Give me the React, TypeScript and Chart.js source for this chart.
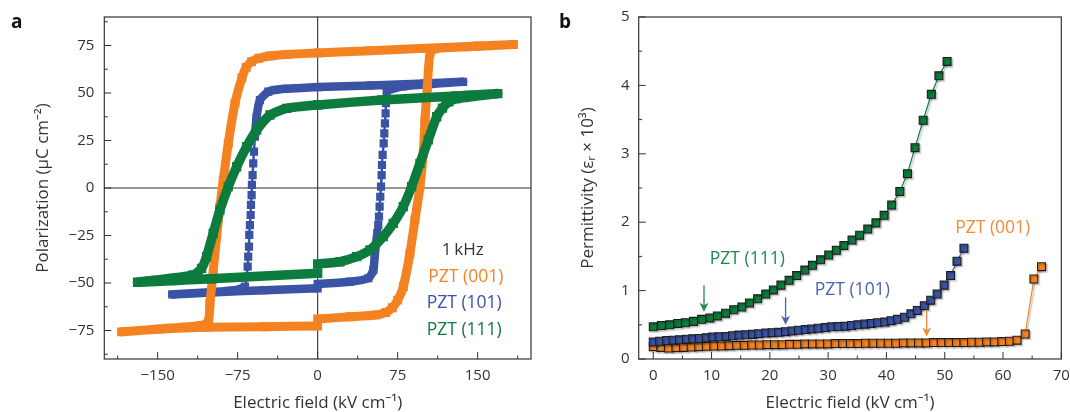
import React, { useEffect, useRef } from "react";
import { Chart, registerables } from "chart.js";

Chart.register(...registerables);

const FONT = "'Open Sans', 'Noto Sans', 'DejaVu Sans', sans-serif";
Chart.defaults.font.family = FONT;

// ---------- Panel a: P–E hysteresis loops (1 kHz) ----------
const fieldA001 = [0, 30, 55, 64, 70, 75, 80.3, 86.5, 91.2, 95.9, 99, 100.6, 102.8, 105.3, 110, 140, 183.5, 150, 100, 50, 0, -30, -45, -55, -62, -67, -71, -77.5, -83.8, -88.5, -91.6, -94.7, -97.8, -101, -102.5, -110, -140, -183.7, -150, -105, -50, 0];
const polA001 = [-68.9, -67.8, -66.8, -65.5, -63, -59, -52, -34.4, -16.8, 0.7, 18.2, 35.8, 53.3, 70.9, 73.3, 74.3, 75.5, 74.7, 73.5, 72.3, 71.1, 70.3, 69.5, 68.3, 66.5, 63.5, 58, 44.6, 23.5, 4.2, -9.8, -25.6, -43.2, -60.7, -70.5, -72.4, -73.8, -75.7, -74.3, -73.3, -73, -72.6];

const fieldA101 = [0, 30.3, 47.5, 52.2, 53.7, 55.9, 56.8, 57.5, 58.1, 58.7, 59.4, 60.0, 60.3, 60.9, 61.9, 62.5, 63.1, 63.7, 64.0, 64.7, 80, 136.3, 100, 50, 0, -30, -40, -46.3, -54.1, -57.2, -58.8, -59.7, -60.4, -61, -61.6, -61.9, -62.5, -62.8, -63.5, -64.1, -64.4, -65.1, -65.6, -66.6, -68.2, -80, -136.3, -100, -50, 0];
const polA101 = [-50.5, -49.3, -47.5, -43.2, -34.4, -23.8, -19.5, -15.1, -9.8, -4.6, 0.7, 6.8, 12.1, 17.4, 23.5, 28.8, 34.0, 39.3, 44.6, 50.7, 53.5, 55.9, 55.0, 54.0, 53.1, 52.2, 51.6, 50.7, 46.3, 37.5, 27, 19.1, 13, 6.8, 1.6, -3.7, -8.9, -14.2, -19.5, -24.7, -30.9, -36.1, -41.4, -46.7, -51.9, -54, -56.0, -55.0, -53.8, -52.8];

const fieldA111 = [0, 20.9, 36.6, 49, 61.5, 70.9, 80.3, 88.1, 95.9, 103.7, 111.6, 117, 123, 130, 168.8, 130, 60, 0, -29.1, -44.7, -57.2, -66.6, -75.9, -83.8, -91.6, -97.9, -104.1, -108.8, -116.6, -168.8, -100, 0];
const polA111 = [-40, -38.8, -36.1, -32.6, -25.6, -18.6, -9.8, 0.7, 13, 25.3, 37.5, 42, 45.3, 47, 49.7, 48.4, 46.3, 43.7, 41.9, 38.4, 30.5, 21.7, 11.2, 0.7, -11.6, -23.8, -36.1, -42.3, -45.8, -49.6, -47.8, -44.9];

const fieldTicksA = [-150, -75, 0, 75, 150];
const fieldMinorA = [-187.5, -112.5, -37.5, 37.5, 112.5, 187.5];
const polTicksA = [-75, -50, -25, 0, 25, 50, 75];
const polMinorA = [-87.5, -62.5, -37.5, -12.5, 12.5, 37.5, 62.5, 87.5];

// ---------- Panel b: permittivity vs field ----------
const fieldB111 = [0, 1.4, 2.8, 4.2, 5.5, 6.9, 8.3, 9.7, 11.0, 12.4, 13.8, 15.2, 16.5, 17.9, 19.3, 20.6, 21.9, 23.3, 24.6, 26.0, 27.3, 28.7, 30.1, 31.4, 32.7, 34.1, 35.4, 36.8, 38.2, 39.6, 40.9, 42.3, 43.6, 44.9, 46.3, 47.7, 49.0, 50.4];
const permB111 = [0.47, 0.49, 0.50, 0.52, 0.53, 0.55, 0.58, 0.60, 0.63, 0.67, 0.72, 0.76, 0.82, 0.88, 0.95, 1.01, 1.08, 1.15, 1.22, 1.30, 1.37, 1.45, 1.52, 1.59, 1.66, 1.74, 1.81, 1.90, 1.99, 2.10, 2.25, 2.45, 2.71, 3.09, 3.49, 3.87, 4.14, 4.35];

const fieldB101 = [0, 1.1, 2.3, 3.4, 4.5, 5.7, 6.8, 7.9, 9.1, 10.2, 11.3, 12.5, 13.6, 14.7, 15.9, 17.0, 18.1, 19.3, 20.4, 21.5, 22.7, 23.8, 24.9, 26.1, 27.2, 28.3, 29.5, 30.6, 31.7, 32.9, 34.0, 35.1, 36.3, 37.4, 38.5, 39.7, 40.8, 41.9, 43.1, 44.2, 45.3, 46.5, 47.6, 48.7, 49.9, 51.0, 52.1, 53.3];
const permB101 = [0.25, 0.26, 0.27, 0.275, 0.28, 0.29, 0.295, 0.30, 0.31, 0.32, 0.325, 0.33, 0.34, 0.35, 0.355, 0.36, 0.37, 0.38, 0.385, 0.39, 0.40, 0.41, 0.42, 0.43, 0.44, 0.45, 0.46, 0.47, 0.475, 0.48, 0.49, 0.50, 0.51, 0.52, 0.53, 0.54, 0.56, 0.58, 0.61, 0.66, 0.71, 0.78, 0.86, 0.95, 1.08, 1.22, 1.43, 1.62];

const fieldB001 = [0, 1.3, 2.6, 3.9, 5.2, 6.5, 7.8, 9.1, 10.4, 11.7, 13.0, 14.3, 15.6, 16.9, 18.2, 19.5, 20.8, 22.1, 23.4, 24.7, 26.0, 27.3, 28.6, 29.9, 31.2, 32.5, 33.8, 35.1, 36.4, 37.7, 39.0, 40.3, 41.6, 42.9, 44.2, 45.5, 46.8, 48.1, 49.4, 50.7, 52.0, 53.3, 54.6, 55.9, 57.2, 58.5, 59.8, 61.1, 62.4, 63.8, 65.3, 66.6];
const permB001 = [0.18, 0.17, 0.16, 0.165, 0.17, 0.175, 0.18, 0.185, 0.19, 0.19, 0.195, 0.20, 0.20, 0.205, 0.205, 0.21, 0.21, 0.21, 0.215, 0.215, 0.22, 0.22, 0.22, 0.22, 0.225, 0.225, 0.225, 0.225, 0.23, 0.23, 0.23, 0.23, 0.23, 0.235, 0.235, 0.235, 0.235, 0.24, 0.24, 0.24, 0.24, 0.24, 0.245, 0.245, 0.25, 0.25, 0.255, 0.26, 0.275, 0.365, 1.17, 1.35];

const fieldTicksB = [0, 10, 20, 30, 40, 50, 60, 70];
const fieldMinorB = [5, 15, 25, 35, 45, 55, 65];
const permTicksB = [0, 1, 2, 3, 4, 5];
const permMinorB = [0.5, 1.5, 2.5, 3.5, 4.5];

const ORANGE = "#f58220";
const BLUE = "#3a53a4";
const GREEN = "#0c7c3e";
const INK = "#333333";

const zip = (xs: number[], ys: number[]) => xs.map((x, i) => ({ x, y: ys[i] }));
const fmt = (v: any) => (Number(v) < 0 ? "\u2212" + Math.abs(Number(v)) : String(v));

const framePlugin = {
  id: "frame",
  beforeDatasetsDraw(chart: any, _args: any, opts: any) {
    const { ctx, chartArea } = chart;
    const { left, right, top, bottom } = chartArea;
    const xs = chart.scales.x;
    const ys = chart.scales.y;
    ctx.save();
    ctx.strokeStyle = INK;
    if (opts.zero) {
      ctx.lineWidth = 1.1;
      const x0 = xs.getPixelForValue(0);
      const y0 = ys.getPixelForValue(0);
      ctx.beginPath();
      ctx.moveTo(x0, top);
      ctx.lineTo(x0, bottom);
      ctx.moveTo(left, y0);
      ctx.lineTo(right, y0);
      ctx.stroke();
    }
    ctx.lineWidth = 1.2;
    ctx.strokeRect(left, top, right - left, bottom - top);
    ctx.lineWidth = 1;
    ctx.beginPath();
    for (const v of opts.xMajor) {
      const p = xs.getPixelForValue(v);
      ctx.moveTo(p, bottom);
      ctx.lineTo(p, bottom - 7);
    }
    for (const v of opts.xMinor) {
      const p = xs.getPixelForValue(v);
      ctx.moveTo(p, bottom);
      ctx.lineTo(p, bottom - 3.5);
    }
    for (const v of opts.yMajor) {
      const p = ys.getPixelForValue(v);
      ctx.moveTo(left, p);
      ctx.lineTo(left + 7, p);
    }
    for (const v of opts.yMinor) {
      const p = ys.getPixelForValue(v);
      ctx.moveTo(left, p);
      ctx.lineTo(left + 3.5, p);
    }
    ctx.stroke();
    ctx.restore();
  },
};

const shadowPlugin = {
  id: "shadow",
  beforeDatasetsDraw(chart: any, _a: any, opts: any) {
    const { ctx } = chart;
    ctx.save();
    if (opts.on) {
      ctx.shadowColor = "rgba(0,0,0,0.28)";
      ctx.shadowOffsetX = 1.5;
      ctx.shadowOffsetY = 1.5;
      ctx.shadowBlur = 1.5;
    }
  },
  afterDatasetsDraw(chart: any) {
    chart.ctx.restore();
  },
};

const notesPlugin = {
  id: "notes",
  afterDatasetsDraw(chart: any, _a: any, opts: any) {
    const { ctx } = chart;
    const xs = chart.scales.x;
    const ys = chart.scales.y;
    ctx.save();
    for (const n of opts.texts || []) {
      ctx.font = `${n.size}px ${FONT}`;
      ctx.fillStyle = n.color;
      ctx.textAlign = "left";
      ctx.textBaseline = "middle";
      ctx.fillText(n.text, xs.getPixelForValue(n.x), ys.getPixelForValue(n.y));
    }
    for (const a of opts.arrows || []) {
      const x = xs.getPixelForValue(a.x);
      const y1 = ys.getPixelForValue(a.from);
      const y2 = ys.getPixelForValue(a.to);
      ctx.strokeStyle = a.color;
      ctx.fillStyle = a.color;
      ctx.lineWidth = 1.3;
      ctx.beginPath();
      ctx.moveTo(x, y1);
      ctx.lineTo(x, y2 - 6);
      ctx.stroke();
      ctx.beginPath();
      ctx.moveTo(x - 4.5, y2 - 9);
      ctx.lineTo(x, y2 - 6.5);
      ctx.lineTo(x + 4.5, y2 - 9);
      ctx.lineTo(x, y2);
      ctx.closePath();
      ctx.fill();
    }
    ctx.restore();
  },
  afterDraw(chart: any, _a: any, opts: any) {
    if (!opts.letter) return;
    const { ctx } = chart;
    ctx.save();
    ctx.font = `bold 19px ${FONT}`;
    ctx.fillStyle = "#111";
    ctx.textAlign = "left";
    ctx.textBaseline = "alphabetic";
    ctx.fillText(opts.letter.text, opts.letter.x, opts.letter.y);
    ctx.restore();
  },
};

function makeScale(opts: {
  min: number;
  max: number;
  ticks: number[];
  size: number;
  horizontal: boolean;
  title: string;
  titlePad: number;
  labelPad: number;
}) {
  return {
    type: "linear",
    min: opts.min,
    max: opts.max,
    afterBuildTicks: (s: any) => {
      s.ticks = opts.ticks.map((v) => ({ value: v }));
    },
    afterFit: (s: any) => {
      if (opts.horizontal) s.height = opts.size;
      else s.width = opts.size;
      s.paddingLeft = 0;
      s.paddingRight = 0;
      s.paddingTop = 0;
      s.paddingBottom = 0;
    },
    grid: { display: false, drawTicks: false },
    border: { display: false },
    ticks: {
      padding: opts.labelPad,
      color: INK,
      font: { size: 15 },
      autoSkip: false,
      maxRotation: 0,
      callback: fmt,
    },
    title: {
      display: true,
      text: opts.title,
      color: INK,
      font: { size: 17, lineHeight: 1 },
      padding: opts.horizontal ? { top: 0, bottom: opts.titlePad } : { top: opts.titlePad, bottom: 0 },
    },
  };
}

function PanelA() {
  const ref = useRef<HTMLCanvasElement>(null);
  useEffect(() => {
    const loop = (label: string, xs: number[], ys: number[], color: string, w: number, r: number, thin: boolean) => ({
      label,
      data: zip(xs, ys),
      showLine: true,
      borderColor: color,
      backgroundColor: color,
      borderWidth: w,
      borderJoinStyle: "round",
      borderCapStyle: "butt",
      tension: 0.2,
      pointStyle: "rect",
      pointRadius: r,
      pointBorderWidth: 0,
      pointBackgroundColor: color,
      segment: thin
        ? {
            borderWidth: (c: any) => {
              const dx = Math.abs(c.p1.x - c.p0.x);
              const dy = Math.abs(c.p1.y - c.p0.y);
              return dx < 4 && dy < 16 ? 2.5 : undefined;
            },
          }
        : undefined,
    });
    const chart = new Chart(ref.current!, {
      type: "scatter",
      data: {
        datasets: [
          loop("PZT (111)", fieldA111, polA111, GREEN, 9.5, 6.6, false),
          loop("PZT (001)", fieldA001, polA001, ORANGE, 9, 6.3, false),
          loop("PZT (101)", fieldA101, polA101, BLUE, 8.5, 5.8, true),
        ] as any,
      },
      options: {
        responsive: false,
        animation: false,
        layout: { padding: { left: 0, right: 9, top: 17, bottom: 0 } },
        plugins: {
          legend: { display: false },
          tooltip: { enabled: false },
          frame: { zero: true, xMajor: fieldTicksA, xMinor: fieldMinorA, yMajor: polTicksA, yMinor: polMinorA },
          shadow: { on: false },
          notes: {
            texts: [
              { text: "1\u2009kHz", x: 116.3, y: -32.5, color: INK, size: 17 },
              { text: "PZT (001)", x: 103.7, y: -46.7, color: ORANGE, size: 17.5 },
              { text: "PZT (101)", x: 102.2, y: -60.7, color: BLUE, size: 17.5 },
              { text: "PZT (111)", x: 102.2, y: -74.9, color: GREEN, size: 17.5 },
            ],
            letter: { text: "a", x: 11, y: 28.3 },
          },
        } as any,
        scales: {
          x: makeScale({ min: -200, max: 200, ticks: fieldTicksA, size: 53, horizontal: true, title: "Electric field (kV cm\u207B\u00B9)", titlePad: 0.5, labelPad: 8 }),
          y: makeScale({ min: -90, max: 90, ticks: polTicksA, size: 104.3, horizontal: false, title: "Polarization (\u03BCC cm\u207B\u00B2)", titlePad: 34.5, labelPad: 10 }),
        } as any,
      },
      plugins: [framePlugin, shadowPlugin, notesPlugin],
    });
    return () => chart.destroy();
  }, []);
  return (
    <canvas
      ref={ref}
      width={540}
      height={412}
      style={{ position: "absolute", left: 0, top: 0, width: 540, height: 412 }}
    />
  );
}

function PanelB() {
  const ref = useRef<HTMLCanvasElement>(null);
  useEffect(() => {
    const series = (label: string, xs: number[], ys: number[], color: string) => ({
      label,
      data: zip(xs, ys),
      showLine: true,
      borderColor: color,
      backgroundColor: color,
      borderWidth: 1.2,
      pointStyle: "rect",
      pointRadius: 5.6,
      pointBorderWidth: 1.1,
      pointBorderColor: "#1c1c1c",
      pointBackgroundColor: color,
    });
    const chart = new Chart(ref.current!, {
      type: "scatter",
      data: {
        datasets: [
          series("PZT (111)", fieldB111, permB111, GREEN),
          series("PZT (101)", fieldB101, permB101, BLUE),
          series("PZT (001)", fieldB001, permB001, ORANGE),
        ] as any,
      },
      options: {
        responsive: false,
        animation: false,
        layout: { padding: { left: 0, right: 8.7, top: 17, bottom: 0 } },
        plugins: {
          legend: { display: false },
          tooltip: { enabled: false },
          frame: { zero: false, xMajor: fieldTicksB, xMinor: fieldMinorB, yMajor: permTicksB, yMinor: permMinorB },
          shadow: { on: true },
          notes: {
            texts: [
              { text: "PZT (111)", x: 9.7, y: 1.46, color: "#1f8a4c", size: 17.5 },
              { text: "PZT (101)", x: 27.7, y: 1.01, color: "#4a62b0", size: 17.5 },
              { text: "PZT (001)", x: 51.8, y: 1.92, color: "#f28a3a", size: 17.5 },
            ],
            arrows: [
              { x: 8.7, from: 1.08, to: 0.69, color: "#1f8a4c" },
              { x: 22.7, from: 0.9, to: 0.5, color: "#4a62b0" },
              { x: 46.9, from: 0.72, to: 0.33, color: "#f28a3a" },
            ],
            letter: { text: "b", x: 19, y: 28.3 },
          },
        } as any,
        scales: {
          x: makeScale({ min: -2.5, max: 70, ticks: fieldTicksB, size: 53, horizontal: true, title: "Electric field (kV cm\u207B\u00B9)", titlePad: 0.5, labelPad: 8 }),
          y: makeScale({ min: 0, max: 5, ticks: permTicksB, size: 98.7, horizontal: false, title: "Permittivity (\u03B5\u1D63 \u00D7 10\u00B3)", titlePad: 39.4, labelPad: 9 }),
        } as any,
      },
      plugins: [framePlugin, shadowPlugin, notesPlugin],
    });
    return () => chart.destroy();
  }, []);
  return (
    <canvas
      ref={ref}
      width={530}
      height={412}
      style={{ position: "absolute", left: 540, top: 0, width: 530, height: 412 }}
    />
  );
}

export default function App() {
  return (
    <div style={{ position: "absolute", left: 0, top: 0, width: 1070, height: 412, background: "#fff", overflow: "hidden" }}>
      <PanelA />
      <PanelB />
    </div>
  );
}
